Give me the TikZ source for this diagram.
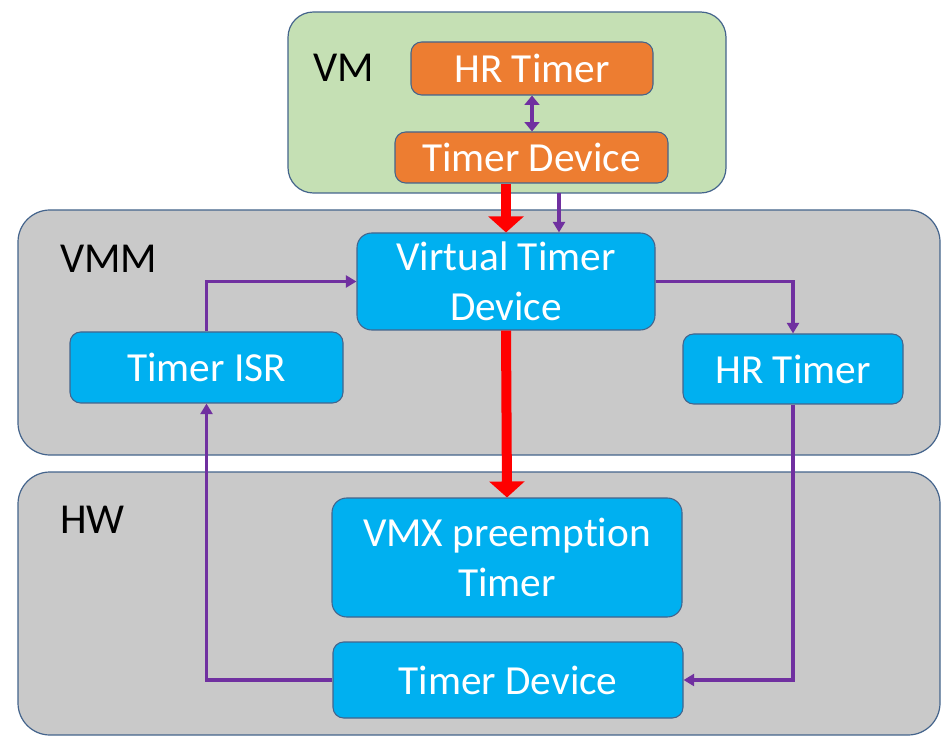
\documentclass[tikz,border=0pt]{standalone}
\usepackage{fontspec}
\setmainfont[Ligatures=NoCommon]{Carlito}
\usepackage{tikz}
\usetikzlibrary{calc,arrows.meta}
\definecolor{vmgreen}{RGB}{197,224,180}
\definecolor{layergrey}{RGB}{201,201,201}
\definecolor{boxblue}{RGB}{0,176,240}
\definecolor{boxorange}{RGB}{237,125,49}
\definecolor{edgeblue}{RGB}{68,100,140}
\definecolor{flowpurple}{RGB}{112,48,160}

\begin{document}
\begin{tikzpicture}[x=0.75pt,y=0.75pt,yscale=-1,xscale=1,
  layer/.style={draw=edgeblue,line width=0.9pt,fill=layergrey,rounded corners=24pt,inner sep=0pt},
  unit/.style={draw=edgeblue,line width=0.8pt,fill=boxblue,rounded corners=8pt,text=white,align=center,inner sep=0pt,font=\fontsize{31}{37.5}\selectfont},
  guest/.style={unit,fill=boxorange},
  tag/.style={anchor=base west,inner sep=0pt,font=\fontsize{32}{37.5}\selectfont},
  flow/.style={draw=flowpurple,line width=2.3pt,-{Triangle[width=9pt,length=8pt]}},
  redflow/.style={draw=red,line width=7.5pt,-{Triangle[width=26pt,length=12pt]}}]
\useasboundingbox (0,0) rectangle (945,737);
%Layers
\node[layer,fill=vmgreen,rounded corners=19pt,minimum width=328.5pt,minimum height=135.75pt] (vm) at (507,102.5) {};
\node[layer,minimum width=691.5pt,minimum height=183.75pt] (vmm) at (479,332.5) {};
\node[layer,minimum width=691.5pt,minimum height=197.25pt] (hw) at (479,603.5) {};
\node[tag] (vmtag) at (313,82) {VM};
\node[tag] (vmmtag) at (60,273) {VMM};
\node[tag] (hwtag) at (60,533) {HW};
%Guest boxes
\node[guest,minimum width=181.5pt,minimum height=39.75pt] (hrt) at (532,68.5) {HR Timer};
\node[guest,minimum width=204.75pt,minimum height=38.25pt] (tdev) at (531.5,157.5) {Timer Device};
%VMM boxes
\node[unit,rounded corners=11pt,minimum width=223.5pt,minimum height=72.75pt] (vtd) at (506,281.5) {Virtual Timer\\Device};
\node[unit,minimum width=204.75pt,minimum height=53.25pt] (isr) at (206.5,367.5) {Timer ISR};
\node[unit,minimum width=165pt,minimum height=52.5pt] (hrt2) at (793,369) {HR Timer};
%HW boxes
\node[unit,rounded corners=11pt,minimum width=262.5pt,minimum height=89.25pt] (vmx) at (507,557.5) {VMX preemption\\Timer};
\node[unit,minimum width=262.5pt,minimum height=57pt] (hwdev) at (508,680) {Timer Device};
%Arrows
\coordinate (tap) at (559,193);
\draw[flow,line width=3.2pt,{Triangle[width=11pt,length=7pt]}-{Triangle[width=11pt,length=7pt]}] (hrt.south) -- (hrt.south |- tdev.north);
\draw[flow] (tap) -- (tap |- vtd.north);
\draw[redflow] (vtd.north |- tdev.south) -- (vtd.north);
\draw[redflow] (vtd.south) -- (vmx.north);
\draw[flow] (isr.north) |- (vtd.west);
\draw[flow] (vtd.east) -| (hrt2.north);
\draw[flow] (hrt2.south) |- (hwdev.east);
\draw[flow] (hwdev.west) -| (isr.south);
\end{tikzpicture}
\end{document}
